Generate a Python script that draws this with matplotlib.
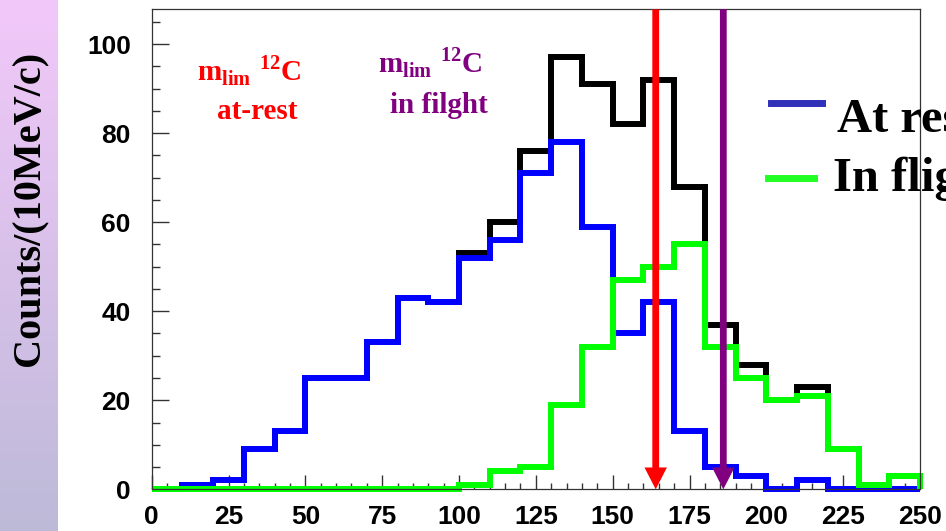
import matplotlib
matplotlib.use("Agg")
import matplotlib.pyplot as plt
import numpy as np
from matplotlib.lines import Line2D
from matplotlib.ticker import MultipleLocator

# histogram data, 10 MeV/c bins from 0 to 250
edges = np.arange(0, 251, 10)
at_rest = [0, 1, 2, 9, 13, 25, 25, 33, 43, 42, 52, 56, 71, 78, 59,
           35, 42, 13, 5, 3, 0, 2, 0, 0, 0]
in_flight = [0, 0, 0, 0, 0, 0, 0, 0, 0, 0, 1, 4, 5, 19, 32,
             47, 50, 55, 32, 25, 20, 21, 9, 1, 3]
total = [0, 1, 2, 9, 13, 25, 25, 33, 43, 42, 53, 60, 76, 97, 91,
         82, 92, 68, 37, 28, 20, 23, 9, 1, 3]

# m_lim markers
m_lim_rest = 164
m_lim_flight = 186

plt.rcParams['font.family'] = ['Liberation Sans', 'DejaVu Sans']
plt.rcParams['font.weight'] = 'bold'
plt.rcParams['mathtext.fontset'] = 'custom'
plt.rcParams['mathtext.bf'] = 'Liberation Serif:bold'
plt.rcParams['mathtext.rm'] = 'Liberation Serif:bold'

W, H = 946, 531
fig = plt.figure(figsize=(W / 100, H / 100), dpi=100)

# gradient strip on the left
strip = fig.add_axes([0, 0, 57 / W, 1])
top_c = np.array([0xf2, 0xc8, 0xfa]) / 255
bot_c = np.array([0xbd, 0xba, 0xd8]) / 255
t = np.linspace(0, 1, 200)[:, None]
grad = (top_c * (1 - t) + bot_c * t)[:, None, :]
strip.imshow(grad, aspect='auto', extent=[0, 1, 0, 1])
strip.axis('off')

x0, y0, x1, y1 = 151.7, 489.3, 920, 9.3
ax = fig.add_axes([x0 / W, 1 - y0 / H, (x1 - x0) / W, (y0 - y1) / H])

lw = 4.3
ax.stairs(total, edges, baseline=0, color='black', lw=lw, clip_on=False, zorder=2)
ax.stairs(at_rest, edges, baseline=0, color='#0000ff', lw=lw, clip_on=False, zorder=2.1)
ax.stairs(in_flight, edges, baseline=0, color='#00ff00', lw=lw, clip_on=False, zorder=2.2)

ax.set_xlim(0, 250)
ax.set_ylim(0, 107.8)

for xm, col in [(m_lim_rest, '#ff0000'), (m_lim_flight, '#800080')]:
    ax.arrow(xm, 107.8, 0, -107.8, width=2.2, head_width=7.3, head_length=4.9,
             length_includes_head=True, color=col, clip_on=False, zorder=4, lw=0)

ax.xaxis.set_major_locator(MultipleLocator(25))
ax.xaxis.set_minor_locator(MultipleLocator(5))
ax.yaxis.set_major_locator(MultipleLocator(20))
ax.yaxis.set_minor_locator(MultipleLocator(5))
ax.tick_params(which='both', direction='in', top=False, right=False,
               color='#333333', width=1, labelsize=19)
ax.tick_params(axis='y', which='major', length=12, pad=15)
ax.tick_params(axis='y', which='minor', length=6)
ax.tick_params(axis='x', which='major', length=10, pad=11)
ax.tick_params(axis='x', which='minor', length=4.5)
for s in ax.spines.values():
    s.set_linewidth(0.9)
    s.set_color('#333333')

serif = 'Liberation Serif'
lab = r"$\mathbf{m}_{\mathbf{lim}}\;{}^{\mathbf{12}}\mathbf{C}$"
ax.text(14.6, 91.9, lab, color='#ff0000', fontsize=21, ha='left', va='baseline')
ax.text(34.3, 83.2, 'at-rest', color='#ff0000', fontsize=21, ha='center',
        va='baseline', family=serif, weight='bold')
ax.text(73.7, 93.5, lab, color='#800080', fontsize=21, ha='left', va='baseline')
ax.text(93.4, 84.6, 'in filght', color='#800080', fontsize=21, ha='center',
        va='baseline', family=serif, weight='bold')

# ylabel
fig.text(30 / W, 1 - 208 / H, 'Counts/(10MeV/c)', rotation=90, ha='center',
         va='center', fontsize=29, family=serif, weight='bold')

# legend (runs off the right edge)
fig.add_artist(Line2D([771 / W, 822 / W], [1 - 103.3 / H] * 2, lw=5, color='#3030b8'))
fig.add_artist(Line2D([768 / W, 814 / W], [1 - 177.7 / H] * 2, lw=5, color='#22ff22'))
fig.text(837 / W, 1 - 131.7 / H, 'At rest', fontsize=35, family=serif,
         weight='bold', va='baseline')
fig.text(833 / W, 1 - 191 / H, 'In flight', fontsize=35, family=serif,
         weight='bold', va='baseline')

fig.savefig('out.png', dpi=100)
